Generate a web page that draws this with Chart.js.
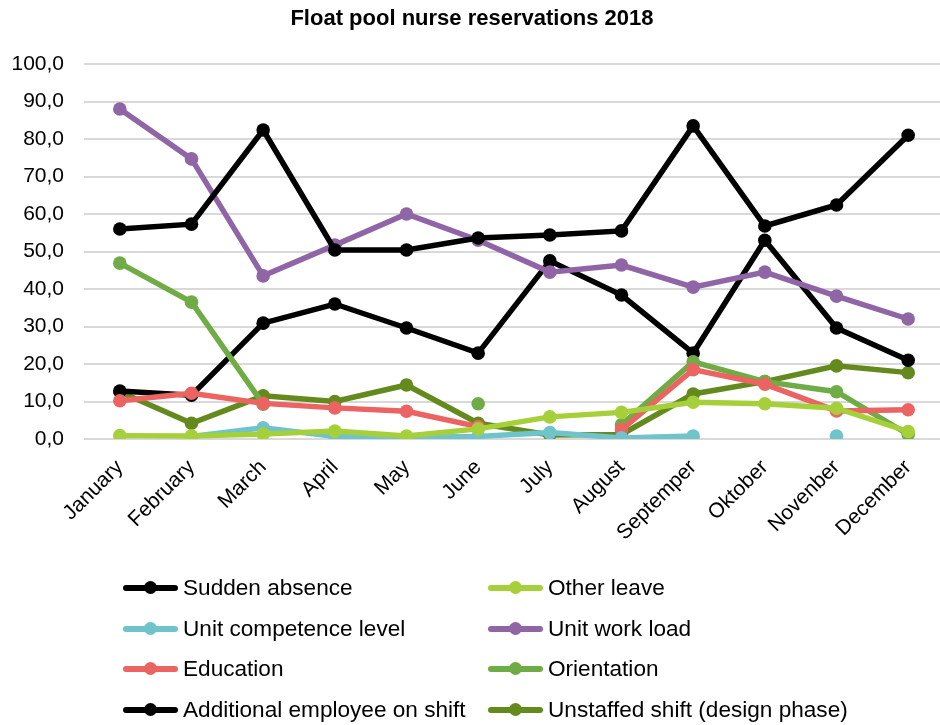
<!DOCTYPE html>
<html>
<head>
<meta charset="utf-8">
<script src="https://cdn.jsdelivr.net/npm/chart.js@4"></script>
<style>
  html, body { margin: 0; padding: 0; background: #fff; overflow: hidden; }
  #wrap { position: relative; width: 960px; height: 725px; }
  #legend {
    position: absolute; left: 123px; top: 568px;
    display: grid; grid-template-columns: 365px auto; grid-auto-rows: 40.5px;
    font-family: "Liberation Sans", Arial, sans-serif; font-size: 22.6px; color: #000;
  }
  .item { display: flex; align-items: center; white-space: nowrap; }
  .sample { position: relative; width: 55px; height: 14px; margin-right: 5px; }
  .sample .ln { position: absolute; left: 0; right: 0; top: 4px; height: 6px; border-radius: 3px; }
  .sample .dot { position: absolute; left: 21px; top: 0; width: 13px; height: 13px; border-radius: 50%; }
</style>
</head>
<body>
<div id="wrap">
  <canvas id="grafico" width="960" height="725"></canvas>
  <div id="legend"></div>
</div>
<script>
// rótulos como estão no original (inclusive a grafia)
const meses = ['January', 'February', 'March', 'April', 'May', 'June', 'July', 'August', 'Septemper', 'Oktober', 'Novenber', 'December'];

const suddenAbsence = [56, 57.3, 82.4, 50.4, 50.4, 53.6, 54.4, 55.5, 83.5, 56.8, 62.4, 81];
const otherLeave = [0.9, 0.8, 1.3, 2.1, 0.8, 2.7, 5.9, 7.1, 9.8, 9.4, 8.2, 2];
const unitCompetence = [null, 0.7, 3, 0.7, 0.5, 0.7, 1.7, 0.3, 0.8, null, 0.8, null];
const unitWorkLoad = [88, 74.7, 43.5, 51.7, 60, 53, 44.5, 46.4, 40.5, 44.5, 38.1, 32];
const education = [10.2, 12.2, 9.5, 8.3, 7.4, 3.3, null, 2.5, 18.5, 14.6, 7.5, 7.8];
const orientation = [46.9, 36.5, 9.3, null, null, 9.4, null, 3.8, 20.6, 15.3, 12.6, 1.2];
const additionalEmployee = [12.8, 11.7, 30.9, 36, 29.6, 22.9, 47.5, 38.4, 22.9, 53, 29.6, 21];
const unstaffedShift = [12.6, 4.2, 11.5, 10, 14.4, 4.2, 1.1, 1.2, 12, 15.3, 19.5, 17.7];

const yTicks = [0, 10, 20, 30, 40, 50, 60, 70, 80, 90, 100];

// series na ordem do Excel (legenda é lida linha por linha)
const series = [
  { nome: 'Sudden absence', dados: suddenAbsence, cor: '#000000' },
  { nome: 'Other leave', dados: otherLeave, cor: '#A6D03A' },
  { nome: 'Unit competence level', dados: unitCompetence, cor: '#6EC4CA' },
  { nome: 'Unit work load', dados: unitWorkLoad, cor: '#9065A6' },
  { nome: 'Education', dados: education, cor: '#EB6461' },
  { nome: 'Orientation', dados: orientation, cor: '#6FAC46' },
  { nome: 'Additional employee on shift', dados: additionalEmployee, cor: '#000000' },
  { nome: 'Unstaffed shift (design phase)', dados: unstaffedShift, cor: '#648A1E' }
];

const fonte = '"Liberation Sans", Arial, sans-serif';

new Chart(document.getElementById('grafico').getContext('2d'), {
  type: 'line',
  data: {
    labels: meses,
    datasets: series.map(s => ({
      label: s.nome,
      data: s.dados,
      borderColor: s.cor,
      backgroundColor: s.cor,
      borderWidth: 5.5,
      pointRadius: 6.8,
      pointHoverRadius: 6.8,
      pointBorderWidth: 0,
      tension: 0,
      spanGaps: false
    }))
  },
  options: {
    responsive: false,
    animation: false,
    layout: { padding: { left: 0, right: 16, top: 0, bottom: 0 } },
    plugins: {
      legend: { display: false },
      tooltip: { enabled: false },
      title: {
        display: true,
        text: 'Float pool nurse reservations 2018',
        color: '#000',
        font: { family: fonte, size: 22, weight: 'bold', lineHeight: 1.2 },
        padding: { top: 6, bottom: 31.6 }
      }
    },
    scales: {
      x: {
        offset: true,
        grid: { display: false },
        border: { display: false },
        ticks: {
          color: '#000',
          font: { family: fonte, size: 21 },
          maxRotation: 45,
          minRotation: 45,
          padding: 8,
          autoSkip: false
        },
        afterFit: s => { s.height = 725 - 439; }
      },
      y: {
        min: 0,
        max: 100,
        afterBuildTicks: s => { s.ticks = yTicks.map(v => ({ value: v })); },
        grid: { color: '#D9D9D9', lineWidth: 2, drawTicks: false },
        border: { display: false },
        ticks: {
          color: '#000',
          font: { family: fonte, size: 21 },
          padding: 20,
          callback: v => v.toFixed(1).replace('.', ',')
        },
        afterFit: s => { s.width = 84; }
      }
    }
  }
});

// Legenda em HTML, duas colunas como no original
const leg = document.getElementById('legend');
series.forEach(s => {
  const div = document.createElement('div');
  div.className = 'item';
  div.innerHTML = `<span class="sample"><span class="ln" style="background:${s.cor}"></span><span class="dot" style="background:${s.cor}"></span></span><span>${s.nome}</span>`;
  leg.appendChild(div);
});
</script>
</body>
</html>
